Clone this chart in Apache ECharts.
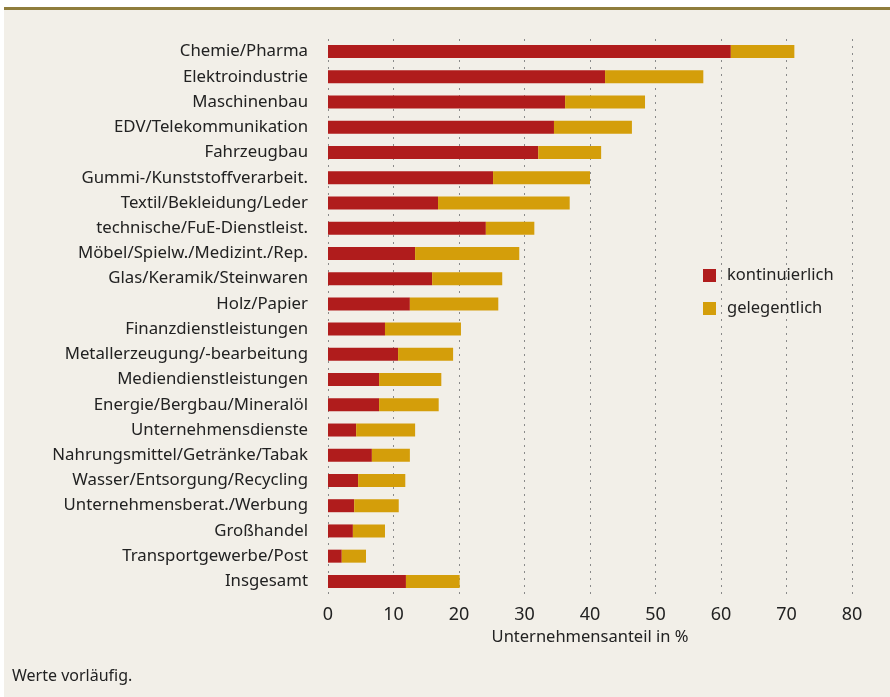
<!DOCTYPE html>
<html>
<head>
<meta charset="utf-8">
<script src="https://cdn.jsdelivr.net/npm/echarts@6/dist/echarts.min.js"></script>
<style>
  html, body { margin: 0; padding: 0; background: #ffffff; }
  #frame { position: absolute; left: 4px; top: 7px; width: 886px; height: 690px;
           background: #f2efe8; border-top: 3px solid #8f7d3c; box-sizing: border-box; }
  #chart { position: absolute; left: 0; top: 0; width: 890px; height: 697px; }
</style>
</head>
<body>
<div id="frame"></div>
<div id="chart"></div>
<script>
  // Branchen (von oben nach unten)
  const categories = [
    'Chemie/Pharma', 'Elektroindustrie', 'Maschinenbau', 'EDV/Telekommunikation',
    'Fahrzeugbau', 'Gummi-/Kunststoffverarbeit.', 'Textil/Bekleidung/Leder',
    'technische/FuE-Dienstleist.', 'Möbel/Spielw./Medizint./Rep.', 'Glas/Keramik/Steinwaren',
    'Holz/Papier', 'Finanzdienstleistungen', 'Metallerzeugung/-bearbeitung',
    'Mediendienstleistungen', 'Energie/Bergbau/Mineralöl', 'Unternehmensdienste',
    'Nahrungsmittel/Getränke/Tabak', 'Wasser/Entsorgung/Recycling',
    'Unternehmensberat./Werbung', 'Großhandel', 'Transportgewerbe/Post', 'Insgesamt'
  ];
  // Anteil kontinuierlich
  const kontinuierlich = [61.5, 42.3, 36.2, 34.5, 32.1, 25.2, 16.8, 24.1, 13.3, 15.9, 12.5,
                          8.7, 10.7, 7.8, 7.8, 4.3, 6.7, 4.6, 4.0, 3.8, 2.1, 11.9];
  // Gesamtanteil (kontinuierlich + gelegentlich)
  const gesamt = [71.2, 57.3, 48.4, 46.4, 41.7, 40.0, 36.9, 31.5, 29.2, 26.6, 26.0,
                  20.3, 19.1, 17.3, 16.9, 13.3, 12.5, 11.8, 10.8, 8.7, 5.8, 20.1];
  const gelegentlich = gesamt.map((v, i) => +(v - kontinuierlich[i]).toFixed(1));
  const xTicks = [0, 80, 10];

  const font = '"Noto Sans", "DejaVu Sans", sans-serif';
  const narrow = '"Liberation Sans Narrow", "Noto Sans", sans-serif';
  const chart = echarts.init(document.getElementById('chart'));
  chart.setOption({
    animation: false,
    textStyle: {fontFamily: font},
    grid: {left: 328, right: 38, top: 39, bottom: 103, containLabel: false},
    legend: {
      orient: 'vertical', left: 703, top: 267, itemGap: 16, padding: 0,
      itemWidth: 13, itemHeight: 13, icon: 'rect',
      textStyle: {fontSize: 16.5, lineHeight: 14, color: '#222', fontFamily: font, padding: [0, 0, 0, 6]},
      data: ['kontinuierlich', 'gelegentlich']
    },
    xAxis: {
      type: 'value', min: xTicks[0], max: xTicks[1], interval: xTicks[2],
      axisLine: {show: false}, axisTick: {show: false},
      axisLabel: {fontSize: 18, color: '#222', margin: 12, fontFamily: narrow},
      splitLine: {show: true, lineStyle: {type: [2, 5], color: '#8a8a8a', width: 1}},
      name: 'Unternehmensanteil in %', nameLocation: 'middle', nameGap: 33,
      nameTextStyle: {fontSize: 16.5, color: '#222', fontFamily: font}
    },
    yAxis: {
      type: 'category', data: categories, inverse: true,
      axisLine: {show: false}, axisTick: {show: false},
      axisLabel: {fontSize: 16.8, color: '#222', margin: 20, fontFamily: font}
    },
    series: [
      {name: 'kontinuierlich', type: 'bar', stack: 'a', data: kontinuierlich,
       barWidth: 13, itemStyle: {color: '#b01c1c'}},
      {name: 'gelegentlich', type: 'bar', stack: 'a', data: gelegentlich,
       barWidth: 13, itemStyle: {color: '#d49e0a'}}
    ],
    graphic: [{
      type: 'text', left: 12, top: 668,
      style: {text: 'Werte vorläufig.', fontSize: 16, fill: '#222', fontFamily: font}
    }]
  });
</script>
</body>
</html>
